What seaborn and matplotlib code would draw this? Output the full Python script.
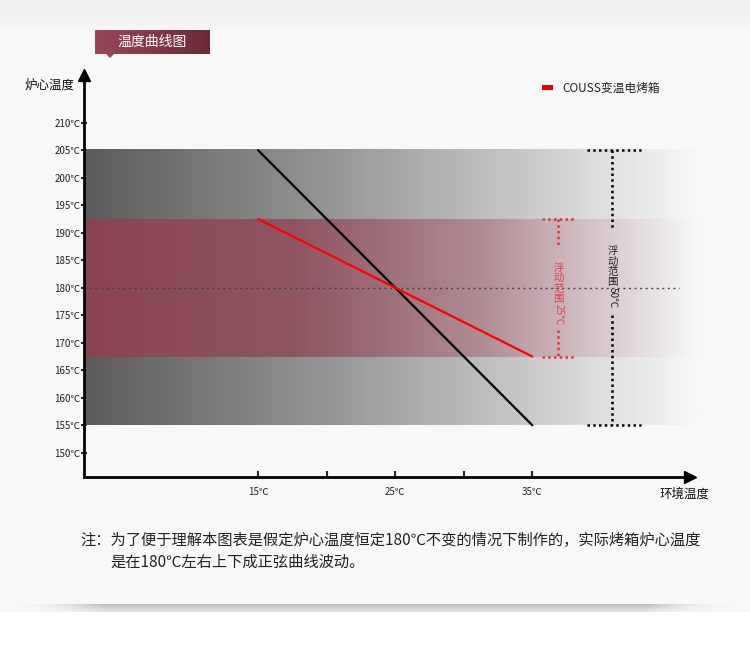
import numpy as np
import pandas as pd
import matplotlib.pyplot as plt
import seaborn as sns
from matplotlib.colors import LinearSegmentedColormap
from matplotlib.patches import Rectangle, Polygon

sns.set_style("white")
plt.rcParams['font.family'] = ['Noto Sans CJK SC', 'DejaVu Sans']

# data
env_temp = [15, 25, 35]
normal_oven = [205, 180, 155]      # 普通烤箱 (black)
couss_oven = [192.5, 180, 167.5]   # COUSS变温电烤箱 (red)
gray_band = (155, 205)
red_band = (167.5, 192.5)
set_temp = 180
y_ticks = list(range(150, 215, 5))
x_ticks = [15, 25, 35]
x_minor = [20, 30]

df = pd.DataFrame({
    'env': env_temp * 2,
    'core': normal_oven + couss_oven,
    'oven': ['普通'] * 3 + ['COUSS变温电烤箱'] * 3,
})

fig = plt.figure(figsize=(7.5, 6.57), dpi=100)
fig.patch.set_facecolor('#f8f8f8')

# background card + shadow
bg = fig.add_axes([0, 0, 1, 1], zorder=-10)
bg.axis('off')
top = np.linspace(0, 1, 30).reshape(-1, 1)
bg.imshow(top, extent=[0, 750, 30, 0], cmap=LinearSegmentedColormap.from_list('t', ['#eeeeee', '#f6f6f6']),
          aspect='auto')
bg.add_patch(Rectangle((0, 612), 750, 45, color='white', lw=0))
shadow_y = np.linspace(1, 0, 20).reshape(-1, 1)
shadow_x = np.minimum(1, np.sin(np.linspace(0, np.pi, 200)) * 2.5).reshape(1, -1)
shadow = shadow_y * shadow_x
bg.imshow(shadow, extent=[5, 745, 622, 604], cmap=LinearSegmentedColormap.from_list(
    's', [(1, 1, 1, 0), (0.55, 0.55, 0.55, 0.55)]), aspect='auto', vmin=0, vmax=1)

# title tag
tag_cmap = LinearSegmentedColormap.from_list('tag', ['#9a4658', '#6c2a38'])
bg.imshow(np.linspace(0, 1, 50).reshape(1, -1), extent=[95, 210, 54, 30], cmap=tag_cmap, aspect='auto')
bg.add_patch(Polygon([[106, 54], [114, 54], [110, 58]], closed=True, color='#98455a', lw=0))
bg.text(152, 42, '温度曲线图', color='white', fontsize=10, ha='center', va='center')
bg.set_xlim(0, 750)
bg.set_ylim(657, 0)

ax = fig.add_axes([0.112, 0.274, 0.808, 0.612])
ax.patch.set_alpha(0)
xmin, xmax = 2.3, 46.5
ymin, ymax = 145.6, 218.7

band_x1 = 47.2
gray_cmap = LinearSegmentedColormap.from_list(
    'g', [(0, '#5c5c5c'), (0.35, '#8e8e8e'), (0.65, '#bdbdbd'), (0.85, '#e0e0e0'), (0.94, '#eeeeee'), (1, '#f8f8f8')])
red_cmap = LinearSegmentedColormap.from_list(
    'r', [(0, '#8a4450'), (0.35, '#8f5662'), (0.65, '#b08d94'), (0.85, '#d8cbce'), (0.94, '#ebe6e7'), (1, '#f8f8f8')])
grad = np.linspace(0, 1, 256).reshape(1, -1)
ax.imshow(grad, extent=[xmin, band_x1, gray_band[0], gray_band[1]], cmap=gray_cmap, aspect='auto',
          zorder=1, clip_on=False)
ax.imshow(grad, extent=[xmin, band_x1, red_band[0], red_band[1]], cmap=red_cmap, aspect='auto',
          zorder=2, clip_on=False)
ax.set_xlim(xmin, xmax)
ax.set_ylim(ymin, ymax)

# 180 line
ax.plot([xmin, 45.7], [set_temp, set_temp], ls=(0, (1.5, 2.5)), color='#444444', lw=1, zorder=3)

sns.lineplot(data=df, x='env', y='core', hue='oven', palette={'普通': 'black', 'COUSS变温电烤箱': '#ff0000'},
             lw=1.6, legend=False, ax=ax, zorder=5)


def vertical_label(x, y_top, chars, num, color):
    # stacked upright characters, then the number turned sideways
    step = 1.86
    y = y_top
    for c in chars:
        ax.text(x, y, c, color=color, fontsize=7.5, ha='center', va='center', zorder=6)
        y -= step
    ax.text(x, y + step * 0.5, num, color=color, fontsize=7.2, ha='center', va='top', rotation=-90, zorder=6)


# range markers
dot = (0, (1, 1.3))
rx = 36.9
rc = '#e8303c'
ax.plot([35.7, 38.1], [red_band[1]] * 2, color=rc, ls=dot, lw=1.8, zorder=4)
ax.plot([35.7, 38.1], [red_band[0]] * 2, color=rc, ls=dot, lw=1.8, zorder=4)
ax.plot([rx, rx], [red_band[1], 187.6], color=rc, ls=dot, lw=1.8, zorder=4)
ax.plot([rx, rx], [172.3, red_band[0]], color=rc, ls=dot, lw=1.8, zorder=4)
vertical_label(rx, 183.6, '浮动范围', '25℃', '#e04050')

bx = 40.84
ax.plot([39.0, 42.9], [gray_band[1]] * 2, color='black', ls=dot, lw=1.8, zorder=4)
ax.plot([39.0, 42.9], [gray_band[0]] * 2, color='black', ls=dot, lw=1.8, zorder=4)
ax.plot([bx, bx], [gray_band[1], 190.6], color='black', ls=dot, lw=1.8, zorder=4)
ax.plot([bx, bx], [175.0, gray_band[0]], color='black', ls=dot, lw=1.8, zorder=4)
vertical_label(bx, 186.6, '浮动范围', '50℃', '#222222')

# axes styling
for s in ['top', 'right']:
    ax.spines[s].set_visible(False)
for s in ['left', 'bottom']:
    ax.spines[s].set_color('black')
    ax.spines[s].set_linewidth(2)
    ax.spines[s].set_zorder(7)
ax.plot(1, 0, '>', color='black', ms=8, transform=ax.transAxes, clip_on=False, zorder=8)
ax.plot(0, 1, '^', color='black', ms=8, transform=ax.transAxes, clip_on=False, zorder=8)

ax.set_yticks(y_ticks)
ax.set_yticklabels([f'{t}℃' for t in y_ticks], fontsize=7, color='#222222')
ax.set_xticks(x_ticks)
ax.set_xticklabels([f'{t}℃' for t in x_ticks], fontsize=7, color='#222222')
ax.set_xticks(x_minor, minor=True)
ax.tick_params(axis='y', direction='inout', length=5, width=1.5, pad=0, left=True)
ax.tick_params(axis='x', which='both', direction='in', length=4, width=1.5, pad=7, bottom=True)
ax.set_xlabel('')
ax.set_ylabel('')

fig.text(25 / 750, 1 - 85 / 657, '炉心温度', fontsize=9, va='center', color='#111111')
fig.text(660 / 750, 1 - 494 / 657, '环境温度', fontsize=9, va='center', color='#111111')

# legend
bg.add_patch(Rectangle((542, 85), 11, 5, color='#ee0000', lw=0))
bg.text(562, 88, 'COUSS变温电烤箱', fontsize=8.5, va='center', color='#222222')

# note
bg.text(80, 540, '注：为了便于理解本图表是假定炉心温度恒定180℃不变的情况下制作的，实际烤箱炉心温度',
        fontsize=11, va='center', color='#222222')
bg.text(110, 562, '是在180℃左右上下成正弦曲线波动。', fontsize=11, va='center', color='#222222')

fig.savefig('out.png', dpi=100, facecolor=fig.get_facecolor())
